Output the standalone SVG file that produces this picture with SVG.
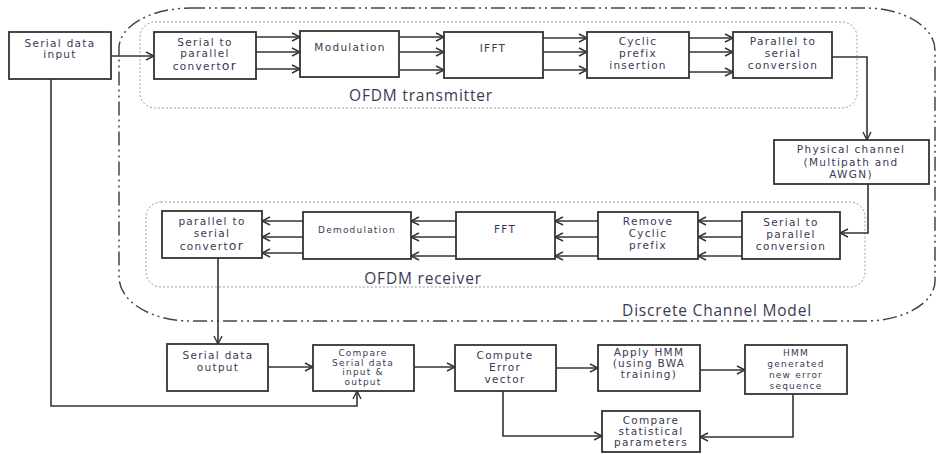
<svg xmlns="http://www.w3.org/2000/svg" width="938" height="454" viewBox="0 0 938 454">
<defs>
<marker id="arr" markerUnits="userSpaceOnUse" markerWidth="12" markerHeight="12" refX="9" refY="5" orient="auto">
<path d="M1,1 L9,5 L1,9" fill="none" stroke="#333" stroke-width="1.4"/>
</marker>
<style>
.box{fill:#fff;stroke:#333;stroke-width:1.8}
.t{font-family:"DejaVu Sans","Liberation Sans",sans-serif;font-size:10.5px;letter-spacing:1.3px;fill:#3a3a55;text-anchor:middle}
.s{font-size:9px;letter-spacing:1.2px}
.lbl{font-family:"Open Sans","Liberation Sans",sans-serif;font-size:15.5px;letter-spacing:0.8px;fill:#3a3a55}
.ln{fill:none;stroke:#333;stroke-width:1.6}
.a{marker-end:url(#arr)}
.dot{fill:none;stroke:#999;stroke-width:1;stroke-dasharray:2 2}
.dd{fill:none;stroke:#444;stroke-width:1.5;stroke-dasharray:14 4 2 4 2 4}
</style>
</defs>
<rect fill="#fff" width="938" height="454"/>
<g id="regions">
<path class="dd" d="M191,8 H865 A70 42 0 0 1 935 50 V281 A70 40 0 0 1 865 321 H190 A71 44 0 0 1 119 277 V48 A72 40 0 0 1 191 8 Z"/>
<rect class="dot" x="140" y="22" width="717" height="86" rx="15"/>
<rect class="dot" x="146" y="202" width="719" height="85" rx="15"/>
<text class="lbl" x="421" y="101" text-anchor="middle">OFDM transmitter</text>
<text class="lbl" x="423" y="284" text-anchor="middle">OFDM receiver</text>
<text class="lbl" x="717" y="316" text-anchor="middle">Discrete Channel Model</text>
</g>
<g id="connectors">
<path class="ln a" d="M111,56 H154"/>
<path class="ln a" d="M256,37 H300"/><path class="ln a" d="M256,52 H300"/><path class="ln a" d="M256,69 H300"/>
<path class="ln a" d="M399,37 H444"/><path class="ln a" d="M399,52 H444"/><path class="ln a" d="M399,70 H444"/>
<path class="ln a" d="M543,38 H587"/><path class="ln a" d="M543,52 H587"/><path class="ln a" d="M543,70 H587"/>
<path class="ln a" d="M689,38 H733"/><path class="ln a" d="M689,52 H733"/><path class="ln a" d="M689,72 H733"/>
<path class="ln a" d="M832,57 H867 V140"/>
<path class="ln a" d="M868,184 V233 H840"/>
<path class="ln a" d="M742,221 H698"/><path class="ln a" d="M742,237 H698"/><path class="ln a" d="M742,256 H698"/>
<path class="ln a" d="M598,221 H555"/><path class="ln a" d="M598,237 H555"/><path class="ln a" d="M598,256 H555"/>
<path class="ln a" d="M456,221 H411"/><path class="ln a" d="M456,237 H411"/><path class="ln a" d="M456,256 H411"/>
<path class="ln a" d="M303,221 H262"/><path class="ln a" d="M303,237 H262"/><path class="ln a" d="M303,253 H262"/>
<path class="ln a" d="M218,258 V344"/>
<path class="ln a" d="M268,367 H313"/>
<path class="ln a" d="M51,79 V406 H357 V391"/>
<path class="ln a" d="M414,367 H455"/>
<path class="ln a" d="M556,368 H598"/>
<path class="ln a" d="M700,370 H745"/>
<path class="ln a" d="M503,391 V436 H602"/>
<path class="ln a" d="M793,394 V437 H700"/>
</g>
<g id="serial_input"><rect class="box" x="9" y="32" width="102" height="47"/><text class="t" x="60" y="47">Serial data</text><text class="t" x="60" y="58">input</text></g>
<g id="s2p_tx"><rect class="box" x="154" y="32" width="102" height="47"/><text class="t" x="205" y="46">Serial to</text><text class="t" x="205" y="57">parallel</text><text class="t" x="205" y="70">convert<tspan font-size="12.5">or</tspan></text></g>
<g id="modulation"><rect class="box" x="300" y="31" width="99" height="46"/><text class="t" x="350" y="51">Modulation</text></g>
<g id="ifft"><rect class="box" x="444" y="32" width="99" height="46"/><text class="t" x="493" y="52">IFFT</text></g>
<g id="cp_insert"><rect class="box" x="587" y="32" width="102" height="46"/><text class="t" x="638" y="45">Cyclic</text><text class="t" x="638" y="57">prefix</text><text class="t" x="638" y="69">insertion</text></g>
<g id="p2s_tx"><rect class="box" x="733" y="32" width="99" height="46"/><text class="t" x="783" y="45">Parallel to</text><text class="t" x="783" y="57">serial</text><text class="t" x="783" y="69">conversion</text></g>
<g id="channel"><rect class="box" x="774" y="140" width="155" height="44"/><text class="t" x="851" y="153">Physical channel</text><text class="t" x="851" y="166">(Multipath and</text><text class="t" x="851" y="178">AWGN)</text></g>
<g id="s2p_rx"><rect class="box" x="742" y="212" width="98" height="47"/><text class="t" x="791" y="226">Serial to</text><text class="t" x="791" y="238">parallel</text><text class="t" x="791" y="250">conversion</text></g>
<g id="cp_remove"><rect class="box" x="598" y="212" width="100" height="47"/><text class="t" x="648" y="225">Remove</text><text class="t" x="648" y="237">Cyclic</text><text class="t" x="648" y="249">prefix</text></g>
<g id="fft"><rect class="box" x="456" y="212" width="99" height="47"/><text class="t" x="505" y="233">FFT</text></g>
<g id="demod"><rect class="box" x="303" y="212" width="108" height="47"/><text class="t s" x="357" y="233">Demodulation</text></g>
<g id="p2s_rx"><rect class="box" x="162" y="211" width="100" height="47"/><text class="t" x="212" y="225">parallel  to</text><text class="t" x="212" y="237">serial</text><text class="t" x="212" y="250">convert<tspan font-size="12.5">or</tspan></text></g>
<g id="serial_output"><rect class="box" x="167" y="344" width="101" height="47"/><text class="t" x="218" y="359">Serial data</text><text class="t" x="218" y="371">output</text></g>
<g id="compare_io"><rect class="box" x="313" y="345" width="101" height="46"/><text class="t s" x="363" y="356">Compare</text><text class="t s" x="363" y="366">Serial data</text><text class="t s" x="363" y="375">input &amp;</text><text class="t s" x="363" y="385">output</text></g>
<g id="compute_err"><rect class="box" x="455" y="345" width="101" height="46"/><text class="t" font-size="11" x="505" y="359">Compute</text><text class="t" font-size="11" x="505" y="371">Error</text><text class="t" font-size="11" x="505" y="383">vector</text></g>
<g id="apply_hmm"><rect class="box" x="598" y="345" width="102" height="46"/><text class="t" x="649" y="356">Apply HMM</text><text class="t" x="649" y="367">(using BWA</text><text class="t" x="649" y="378">training)</text></g>
<g id="hmm_gen"><rect class="box" x="745" y="345" width="102" height="49"/><text class="t s" x="796" y="356">HMM</text><text class="t s" x="796" y="367">generated</text><text class="t s" x="796" y="378">new error</text><text class="t s" x="796" y="389">sequence</text></g>
<g id="compare_stats"><rect class="box" x="602" y="411" width="98" height="41"/><text class="t" x="651" y="424">Compare</text><text class="t" x="651" y="435">statistical</text><text class="t" x="651" y="446">parameters</text></g>
</svg>
